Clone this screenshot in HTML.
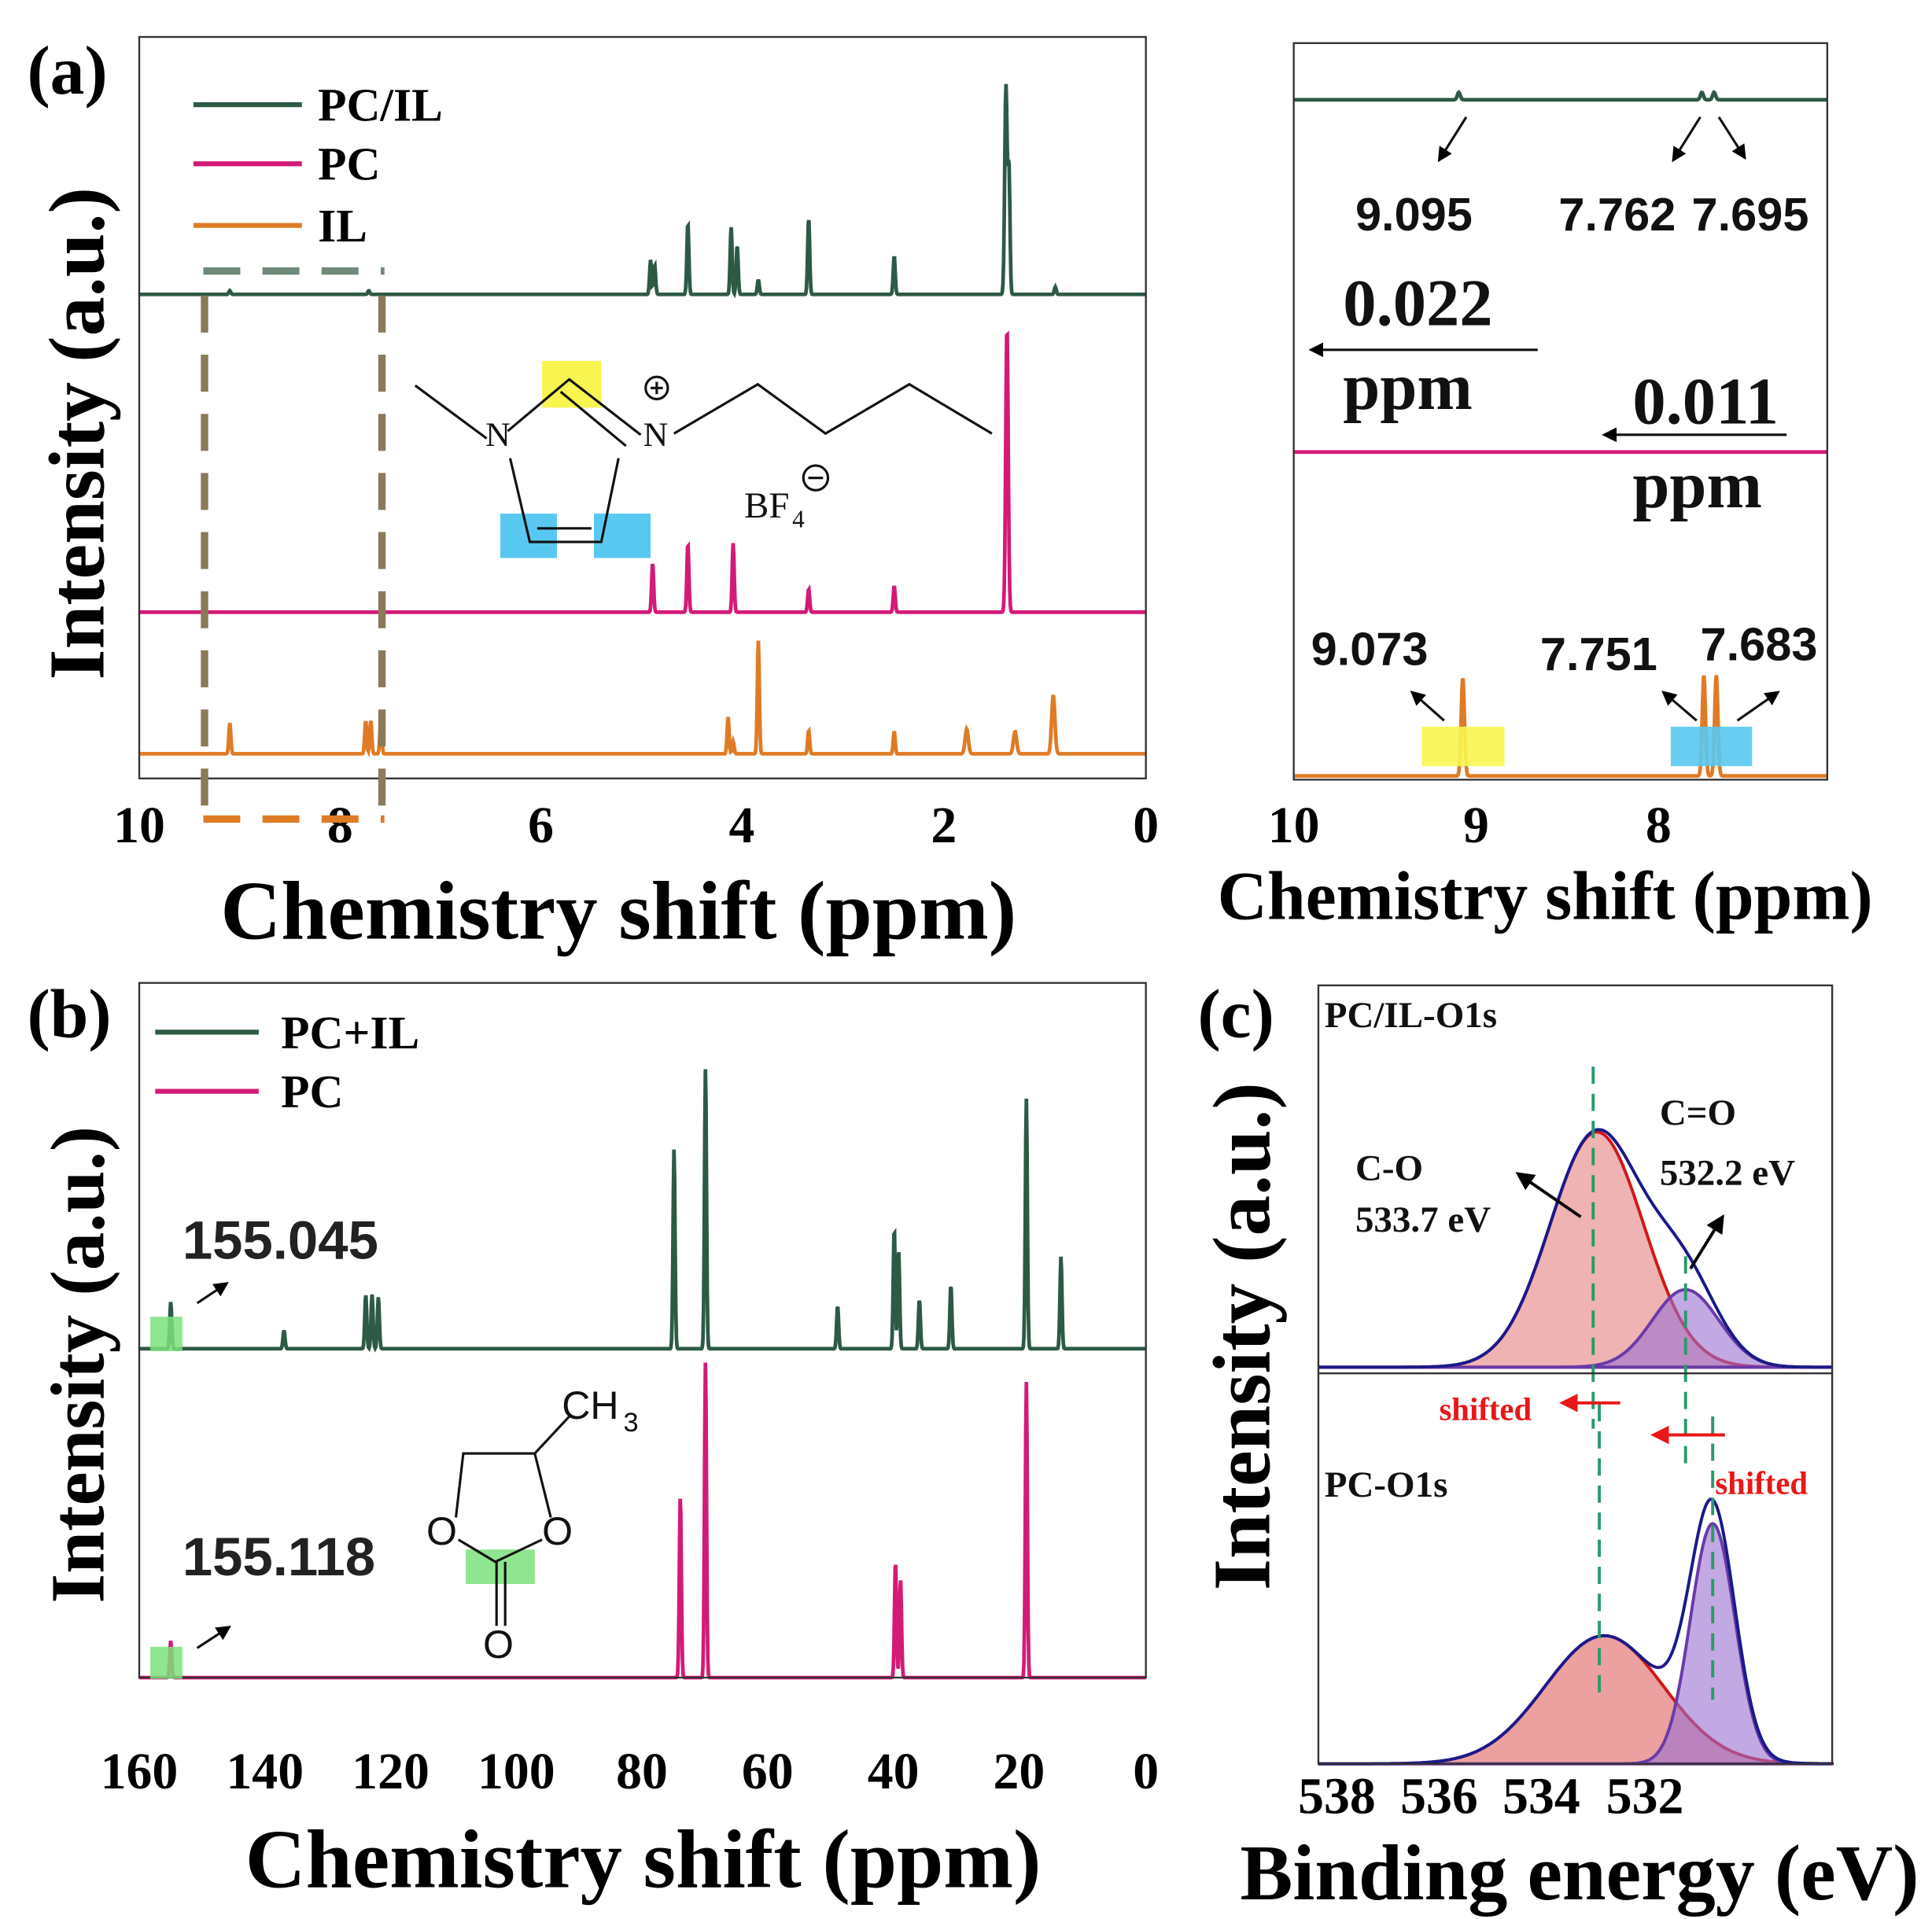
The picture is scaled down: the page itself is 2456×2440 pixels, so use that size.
<!DOCTYPE html>
<html><head><meta charset="utf-8"><style>
html,body{margin:0;padding:0;background:#fff;}
svg{display:block;}
.tk{font-family:"Liberation Serif",serif;font-weight:bold;font-size:42px;}
.ax{font-family:"Liberation Serif",serif;font-weight:bold;}
.sn{font-family:"Liberation Sans",sans-serif;font-weight:bold;}
</style></head><body>
<svg id="s" width="2456" height="2440" viewBox="0 0 1568 1558" preserveAspectRatio="none" xmlns="http://www.w3.org/2000/svg">
<defs><marker id="ah" markerWidth="6" markerHeight="6" refX="5" refY="3" orient="auto"><path d="M0,0L6,3L0,6z" fill="#000"/></marker>
<marker id="ahr" markerWidth="6" markerHeight="6" refX="5" refY="3" orient="auto"><path d="M0,0L6,3L0,6z" fill="#e81818"/></marker></defs>
<g id="g"></g>
<!-- panel a -->
<rect x="113" y="30" width="817" height="602" fill="none" stroke="#333" stroke-width="1.5"/>
<text class="ax" x="22" y="76" font-size="56">(a)</text>
<g class="tk" text-anchor="middle"><text x="113" y="684">10</text><text x="276" y="684">8</text><text x="439" y="684">6</text><text x="602" y="684">4</text><text x="766" y="684">2</text><text x="930" y="684">0</text></g>
<text class="ax" x="502" y="762" font-size="68" text-anchor="middle">Chemistry shift (ppm)</text>
<text class="ax" font-size="64" transform="translate(84,352) rotate(-90)" text-anchor="middle">Intensity (a.u.)</text>
<g stroke-width="4"><line x1="157" y1="85" x2="245" y2="85" stroke="#2d5a45"/><line x1="157" y1="133" x2="245" y2="133" stroke="#d41a78"/><line x1="157" y1="183" x2="245" y2="183" stroke="#e07b25"/></g>
<g class="ax" font-size="38"><text x="258" y="98">PC/IL</text><text x="258" y="146">PC</text><text x="258" y="196">IL</text></g>
<g stroke-width="6" stroke-dasharray="30,18" fill="none">
<line x1="165" y1="220" x2="312" y2="220" stroke="#6f8a7a"/>
<line x1="166" y1="240" x2="166" y2="665" stroke="#8a7a5a"/>
<line x1="310" y1="240" x2="310" y2="665" stroke="#8a7a5a"/>
<line x1="165" y1="665" x2="312" y2="665" stroke="#e07b25"/>
</g>
<!-- imidazolium -->
<rect x="440" y="293" width="48" height="38" fill="#f8f550"/>
<rect x="406" y="417" width="46" height="36" fill="#58c8f0"/>
<rect x="482" y="417" width="46" height="36" fill="#58c8f0"/>
<g stroke="#111" stroke-width="2" fill="none">
<path d="M337,313L395,356"/><path d="M412,350L462,308L520,353"/><path d="M455,318L508,362"/>
<path d="M414,372L430,440L488,440L502,372"/><path d="M436,429H480"/>
<path d="M547,352L615,312L670,352L738,312L805,352"/>
<circle cx="533" cy="315" r="9"/><path d="M528,315h10M533,310v10"/>
<circle cx="662" cy="388" r="10"/><path d="M656,388h12"/>
</g>
<g font-family="Liberation Serif,serif" font-size="28" fill="#111"><text x="394" y="362">N</text><text x="522" y="362">N</text><text x="604" y="420" font-size="30">BF</text><text x="643" y="428" font-size="20">4</text></g>
<!-- right a -->
<rect x="1050" y="35" width="433" height="598" fill="none" stroke="#333" stroke-width="1.5"/>
<g class="tk" text-anchor="middle"><text x="1050" y="684">10</text><text x="1198" y="684">9</text><text x="1346" y="684">8</text></g>
<text class="ax" x="1254" y="746" font-size="56" text-anchor="middle">Chemistry shift (ppm)</text>
<g class="sn" font-size="38" fill="#111"><text x="1100" y="187">9.095</text><text x="1265" y="187">7.762</text><text x="1373" y="187">7.695</text>
<text x="1064" y="540">9.073</text><text x="1250" y="544">7.751</text><text x="1380" y="536">7.683</text></g>
<g class="ax" font-size="54" fill="#111"><text x="1090" y="264">0.022</text><text x="1090" y="332">ppm</text><text x="1325" y="344">0.011</text><text x="1325" y="412">ppm</text></g>
<rect x="1154" y="590" width="67" height="32" fill="#f8f550" opacity="0.9"/>
<rect x="1356" y="590" width="66" height="32" fill="#58c8f0" opacity="0.9"/>
<g stroke="#111" stroke-width="2" marker-end="url(#ah)">
<line x1="1190" y1="95" x2="1168" y2="130"/><line x1="1380" y1="95" x2="1358" y2="130"/><line x1="1395" y1="95" x2="1416" y2="128"/>
<line x1="1248" y1="284" x2="1064" y2="284"/><line x1="1450" y1="353" x2="1302" y2="353"/>
<line x1="1172" y1="585" x2="1146" y2="562"/><line x1="1377" y1="585" x2="1350" y2="562"/><line x1="1410" y1="585" x2="1443" y2="562"/>
</g>
<!-- panel b -->
<rect x="113" y="798" width="817" height="564" fill="none" stroke="#333" stroke-width="1.5"/>
<text class="ax" x="22" y="842" font-size="56">(b)</text>
<g class="tk" text-anchor="middle"><text x="113" y="1452">160</text><text x="215" y="1452">140</text><text x="317" y="1452">120</text><text x="419" y="1452">100</text><text x="521" y="1452">80</text><text x="623" y="1452">60</text><text x="725" y="1452">40</text><text x="827" y="1452">20</text><text x="930" y="1452">0</text></g>
<text class="ax" x="522" y="1532" font-size="68" text-anchor="middle">Chemistry shift (ppm)</text>
<text class="ax" font-size="62" transform="translate(84,1108) rotate(-90)" text-anchor="middle">Intensity (a.u.)</text>
<g stroke-width="4"><line x1="126" y1="838" x2="210" y2="838" stroke="#2d5a45"/><line x1="126" y1="886" x2="210" y2="886" stroke="#d41a78"/></g>
<g class="ax" font-size="38"><text x="228" y="851">PC+IL</text><text x="228" y="899">PC</text></g>
<rect x="122" y="1069" width="26" height="28" fill="#7de07d" opacity="0.85"/>
<rect x="122" y="1337" width="26" height="26" fill="#7de07d" opacity="0.85"/>
<g class="sn" font-size="44" fill="#222"><text x="148" y="1022">155.045</text><text x="148" y="1279">155.118</text></g>
<g stroke="#111" stroke-width="2" marker-end="url(#ah)"><line x1="160" y1="1058" x2="184" y2="1042"/><line x1="160" y1="1338" x2="186" y2="1321"/></g>
<!-- PC molecule -->
<rect x="378" y="1258" width="56" height="28" fill="#7de07d" opacity="0.85"/>
<g stroke="#111" stroke-width="2" fill="none"><path d="M370,1232L376,1180L434,1180L447,1232"/><path d="M372,1250L402,1268L440,1250"/><path d="M434,1180L462,1150"/><path d="M403,1268V1320M410,1268V1320"/></g>
<g font-family="Liberation Sans,sans-serif" font-size="32" fill="#111"><text x="346" y="1254">O</text><text x="440" y="1254">O</text><text x="392" y="1346">O</text><text x="456" y="1152">CH</text><text x="506" y="1162" font-size="22">3</text></g>
<!-- panel c -->
<rect x="1070" y="800" width="417" height="632" fill="none" stroke="#333" stroke-width="1.5"/>
<line x1="1070" y1="1115" x2="1487" y2="1115" stroke="#333" stroke-width="1.5"/>
<text class="ax" x="972" y="842" font-size="56">(c)</text>
<g class="tk" text-anchor="middle" font-size="38"><text x="1085" y="1472">538</text><text x="1168" y="1472">536</text><text x="1251" y="1472">534</text><text x="1335" y="1472">532</text></g>
<text class="ax" x="1282" y="1542" font-size="64" text-anchor="middle">Binding energy (eV)</text>
<text class="ax" font-size="66" transform="translate(1030,1085) rotate(-90)" text-anchor="middle">Intensity (a.u.)</text>
<g class="ax" font-size="30" fill="#111"><text x="1075" y="834">PC/IL-O1s</text><text x="1075" y="1215">PC-O1s</text>
<text x="1100" y="958">C-O</text><text x="1100" y="1000">533.7 eV</text><text x="1347" y="913">C=O</text><text x="1347" y="962">532.2 eV</text></g>
<g class="ax" font-size="26" fill="#e81818"><text x="1168" y="1153">shifted</text><text x="1392" y="1213">shifted</text></g>
</svg>
<script>
var g=document.getElementById('g'),NS='http://www.w3.org/2000/svg';
function add(tag,attrs){var e=document.createElementNS(NS,tag);for(var k in attrs)e.setAttribute(k,attrs[k]);g.appendChild(e);return e;}
function nmr(x0,x1,base,peaks,col,w){
 var d='M'+x0+','+base;
 for(var x=x0;x<=x1;x+=0.5){var y=0;
  peaks.forEach(function(p){var s=p[2]||0.8;var dx=(x-p[0])/s;y+=p[1]*Math.exp(-dx*dx/2);});
  d+='L'+x.toFixed(1)+','+(base-y).toFixed(1);}
 add('path',{d:d,fill:'none',stroke:col,'stroke-width':w||3});
}
function px(ppm){return 930-ppm*81.7;}
function P(arr){return arr.map(function(a){return [px(a[0]),a[1],a[2]];});}
nmr(113,930,239,P([[9.1,3],[7.72,3],[4.92,28],[4.88,24],[4.55,58],[4.12,55],[4.06,40],[3.85,12],[3.35,62],[2.5,31],[1.39,170,1],[1.36,100],[0.9,6]]),'#2d5a45');
nmr(113,930,497,P([[4.9,40],[4.55,56],[4.1,56],[3.35,19],[2.5,21],[1.38,232,1]]),'#d41a78');
nmr(113,930,612,P([[9.1,25],[7.75,27],[7.7,27],[7.6,27],[4.15,30],[4.1,10],[3.85,92],[3.35,19],[2.5,18],[1.78,20,1.3],[1.3,18,1.3],[0.92,48,1.3]]),'#e07b25');
function rx(ppm){return 1050+(10-ppm)*148;}
nmr(1050,1483,81,[[rx(9.095),6,1.2],[rx(7.762),6,1.2],[rx(7.695),6,1.2]],'#2d5a45');
nmr(1050,1483,367,[],'#d41a78');
nmr(1050,1483,630,[[rx(9.073),80,1.3],[rx(7.751),82,1.3],[rx(7.683),82,1.3]],'#e07b25');
function bx(ppm){return 930-ppm*5.106;}
nmr(113,930,1095,[[bx(155),38],[bx(137),15],[bx(124),44],[bx(123),44],[bx(122),42],[bx(75),162],[bx(70),228],[bx(49),35],[bx(40),98],[bx(39.3),80],[bx(36),40],[bx(31),52],[bx(19),203],[bx(13.5),75]],'#2d5a45');
nmr(113,930,1362,[[bx(155),30],[bx(74),148],[bx(70),257],[bx(39.8),95],[bx(39),80],[bx(19),240]],'#d41a78');
// XPS (pixel-based components: center x, height, sigma px)
function xps(base,comps){
 var x0=1070,x1=1487,cs=comps.map(function(){return [];}),envPts=[];
 for(var x=x0;x<=x1;x+=1){var tot=0;
  comps.forEach(function(c,i){var dx=(x-c[0])/c[2];var y=c[1]*Math.exp(-dx*dx/2);tot+=y;cs[i].push([x,base-y]);});
  envPts.push([x,base-tot]);}
 comps.forEach(function(c,i){var d='M'+x0+','+base+cs[i].map(function(p){return 'L'+p[0]+','+p[1].toFixed(1);}).join('')+'L'+x1+','+base+'Z';
  add('path',{d:d,fill:c[3],'fill-opacity':0.6,stroke:c[4],'stroke-width':2.5});});
 add('path',{d:'M'+envPts.map(function(p){return p[0]+','+p[1].toFixed(1);}).join('L'),fill:'none',stroke:'#1a1a8a','stroke-width':2.5});
}
xps(1110,[[1296,191,38,'#e58080','#d01818'],[1368,63,27,'#9a70d0','#6a3aa8']]);
xps(1432,[[1302,104,48,'#e06060','#d01818'],[1390,195,18,'#9a70d0','#6a3aa8']]);
[[1293,866,1160],[1298,1140,1380],[1368,1020,1195],[1390,1150,1380]].forEach(function(l){add('line',{x1:l[0],y1:l[1],x2:l[0],y2:l[2],stroke:'#2a9a6a','stroke-width':2.5,'stroke-dasharray':'14,8'});});
add('line',{x1:1315,y1:1139,x2:1268,y2:1139,stroke:'#e81818','stroke-width':2.5,'marker-end':'url(#ahr)'});
add('line',{x1:1400,y1:1165,x2:1342,y2:1165,stroke:'#e81818','stroke-width':2.5,'marker-end':'url(#ahr)'});
add('line',{x1:1283,y1:988,x2:1232,y2:953,stroke:'#000','stroke-width':2.5,'marker-end':'url(#ah)'});
add('line',{x1:1372,y1:1030,x2:1398,y2:988,stroke:'#000','stroke-width':2.5,'marker-end':'url(#ah)'});
</script>
</body></html>
